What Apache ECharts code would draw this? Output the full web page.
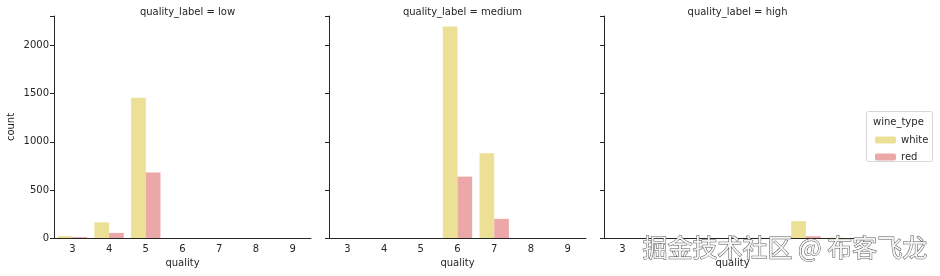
<!DOCTYPE html>
<html><head><meta charset="utf-8">
<script src="https://cdn.jsdelivr.net/npm/echarts@6/dist/echarts.min.js"></script>
<style>html,body{margin:0;padding:0;background:#fff}#c{width:940px;height:276px}</style>
</head><body><div id="c"></div>
<script>
const qualities = ['3','4','5','6','7','8','9'];
const facets = ['low','medium','high'];
const whiteLow = [20, 163, 1457, null, null, null, null];
const redLow = [10, 53, 681, null, null, null, null];
const whiteMedium = [null, null, null, 2198, 880, null, null];
const redMedium = [null, null, null, 638, 199, null, null];
const whiteHigh = [null, null, null, null, null, 175, 5];
const redHigh = [null, null, null, null, null, 18, null];
const yTicks = [0, 500, 1000, 1500, 2000];

const whiteByFacet = [whiteLow, whiteMedium, whiteHigh];
const redByFacet = [redLow, redMedium, redHigh];
const FONT = 'DejaVu Sans';
const TXT = '#262626';
const lefts = [54, 329, 604];
const W = 257;

const grids = [], xAxes = [], yAxes = [], series = [], titles = [];
facets.forEach((f, i) => {
  grids.push({left: lefts[i], top: 16, width: W, bottom: 38});
  xAxes.push({
    type: 'category', gridIndex: i, data: qualities, boundaryGap: true,
    axisLine: {lineStyle: {color: TXT, width: 1}},
    axisTick: {show: false},
    axisLabel: {color: TXT, fontFamily: FONT, fontSize: 10, margin: 6},
    name: 'quality', nameLocation: 'middle', nameGap: 20,
    nameTextStyle: {color: TXT, fontFamily: FONT, fontSize: 10}
  });
  yAxes.push({
    type: 'value', gridIndex: i, min: 0, max: 2308, interval: 500,
    splitLine: {show: false},
    axisLine: {show: true, lineStyle: {color: TXT, width: 1}},
    axisTick: {show: true, length: 4, lineStyle: {color: TXT}},
    axisLabel: {show: i === 0, color: TXT, fontFamily: FONT, fontSize: 10, margin: 5,
      formatter: v => (yTicks.indexOf(v) >= 0 ? String(v) : '')},
    name: i === 0 ? 'count' : '', nameLocation: 'middle', nameGap: 38,
    nameTextStyle: {color: TXT, fontFamily: FONT, fontSize: 10}
  });
  series.push({
    type: 'bar', name: 'white', xAxisIndex: i, yAxisIndex: i,
    data: whiteByFacet[i], barWidth: '40%', barGap: '0%',
    itemStyle: {color: '#ece096'}
  });
  series.push({
    type: 'bar', name: 'red', xAxisIndex: i, yAxisIndex: i,
    data: redByFacet[i], barWidth: '40%', barGap: '0%',
    itemStyle: {color: '#eca7a8'}
  });
  titles.push({
    text: 'quality_label = ' + f, left: lefts[i] + W / 2, top: 2, textAlign: 'center',
    textStyle: {color: TXT, fontFamily: FONT, fontSize: 10, fontWeight: 'normal'}
  });
});

const chart = echarts.init(document.getElementById('c'), null, {renderer: 'canvas'});
chart.setOption({
  animation: false,
  backgroundColor: '#fff',
  title: titles,
  grid: grids, xAxis: xAxes, yAxis: yAxes, series: series,
  legend: {
    data: ['white', 'red'], orient: 'vertical', left: 870, top: 130,
    itemWidth: 21, itemHeight: 7, itemGap: 7,
    textStyle: {color: TXT, fontFamily: FONT, fontSize: 10},
    selectedMode: false
  },
  graphic: [
    {type: 'rect', left: 866, top: 111, shape: {width: 66, height: 50, r: 2},
      style: {fill: 'rgba(255,255,255,0.8)', stroke: '#d6d6d6', lineWidth: 1}, z: -1},
    {type: 'text', left: 873, top: 117,
      style: {text: 'wine_type', fill: TXT, font: '10px "DejaVu Sans"'}},
    {type: 'rect', left: 640, top: 240, shape: {width: 290, height: 18},
      style: {fill: '#ffffff'}, z: 99},
    {type: 'text', left: 642, top: 234, z: 100,
      style: {text: '掘金技术社区 @ 布客飞龙', fill: '#f4f4f4', stroke: '#555', lineWidth: 1,
        font: '25px "Noto Sans CJK SC"'}}
  ]
});
</script></body></html>
